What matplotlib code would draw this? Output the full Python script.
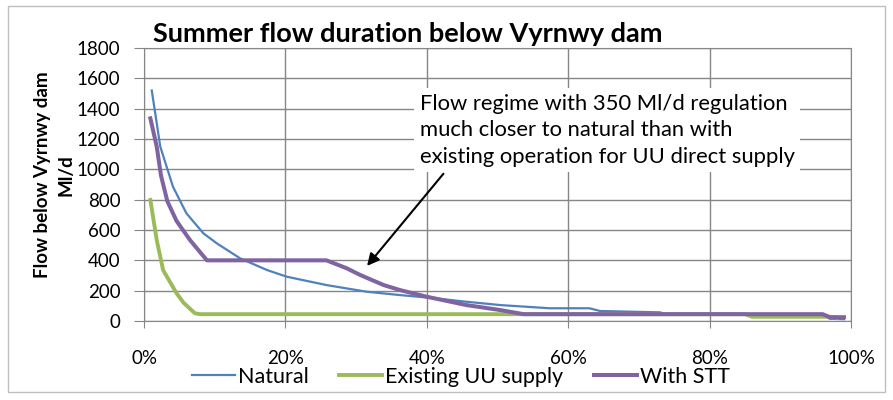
import numpy as np
import matplotlib.pyplot as plt
from matplotlib.ticker import FuncFormatter
from matplotlib.patches import Rectangle

plt.rcParams['font.family'] = ['Lato', 'DejaVu Sans']

# Exceedance (% of time) and flow (Ml/d)
natural_x = [1.1, 2.3, 4.1, 6.0, 8.4, 10.3, 13.6, 17.4, 20.2, 25.8, 31.5, 36.2, 40.9,
             45.6, 50.4, 57.4, 63, 64.5, 73, 74, 96, 97, 99]
natural_y = [1520, 1150, 885, 710, 578, 512, 413, 336, 292, 237, 193, 171, 151,
             127, 105, 84, 84, 66, 57, 42, 42, 15, 12]

existing_x = [0.9, 1.8, 2.7, 4.6, 5.6, 7.2, 7.9, 85, 86, 97, 98]
existing_y = [798, 534, 336, 183, 120, 51, 45, 45, 28, 28, 22]

stt_x = [0.9, 1.8, 2.4, 3.3, 4.6, 6.5, 8.9, 25.8, 28.7, 30.6, 33.9, 36.2, 40, 45.6,
         50.4, 53.7, 96, 97, 99]
stt_y = [1336, 1150, 960, 790, 660, 534, 400, 400, 347, 303, 237, 204, 160, 105,
         72, 45, 45, 25, 25]

grid_col = '#868686'

fig = plt.figure(figsize=(8.93, 4.0), dpi=100)
ax = fig.add_axes([144 / 893, 79 / 400, 707 / 893, 273 / 400])

ax.plot(natural_x, natural_y, color='#4F81BD', lw=1.6, label='Natural', zorder=3)
ax.plot(existing_x, existing_y, color='#9BBB59', lw=2.8, label='Existing UU supply', zorder=3)
ax.plot(stt_x, stt_y, color='#8064A2', lw=2.9, label='With STT', zorder=4)

ax.set_xlim(0, 100)
ax.set_ylim(0, 1800)
ax.set_xticks(np.arange(0, 101, 20))
ax.set_yticks(np.arange(0, 1801, 200))
ax.xaxis.set_major_formatter(FuncFormatter(lambda v, p: f'{v:.0f}%'))
ax.grid(True, color=grid_col, lw=1)
ax.set_axisbelow(True)
for s in ax.spines.values():
    s.set_color(grid_col)
ax.tick_params(axis='x', length=5, color=grid_col, pad=16, labelsize=13.5)
ax.tick_params(axis='y', length=7, color=grid_col, pad=10, labelsize=13.5)

ax.set_ylabel('Flow below Vyrnwy dam\nMl/d', fontsize=13.5, fontweight='bold',
              linespacing=1.5)
ax.yaxis.set_label_coords(-0.098, 0.535)

fig.text(153 / 893, 358 / 400, 'Summer flow duration below Vyrnwy dam',
         fontsize=19.5, fontweight='bold', ha='left', va='baseline')

ax.text(39, 1500, 'Flow regime with 350 Ml/d regulation\nmuch closer to natural than with\n'
        'existing operation for UU direct supply', fontsize=15.8, va='top', ha='left',
        linespacing=1.42, zorder=5,
        bbox=dict(facecolor='white', edgecolor='none', pad=4))
ax.annotate('', xy=(31.3, 349), xytext=(42.6, 985),
            arrowprops=dict(arrowstyle='-|>', color='black', lw=1.5,
                            mutation_scale=18), zorder=6)

ax.legend(loc='center', bbox_to_anchor=(0.448, -0.205), ncol=3, frameon=False,
          fontsize=15.5, handlelength=2.0, handletextpad=0.15, columnspacing=1.4,
          borderaxespad=0, borderpad=0)

fig.patches.append(Rectangle((8 / 893, 8 / 400), 877 / 893, 386 / 400,
                             transform=fig.transFigure, fill=False,
                             edgecolor='#bfbfbf', lw=1))

fig.savefig('out.png', dpi=100)
